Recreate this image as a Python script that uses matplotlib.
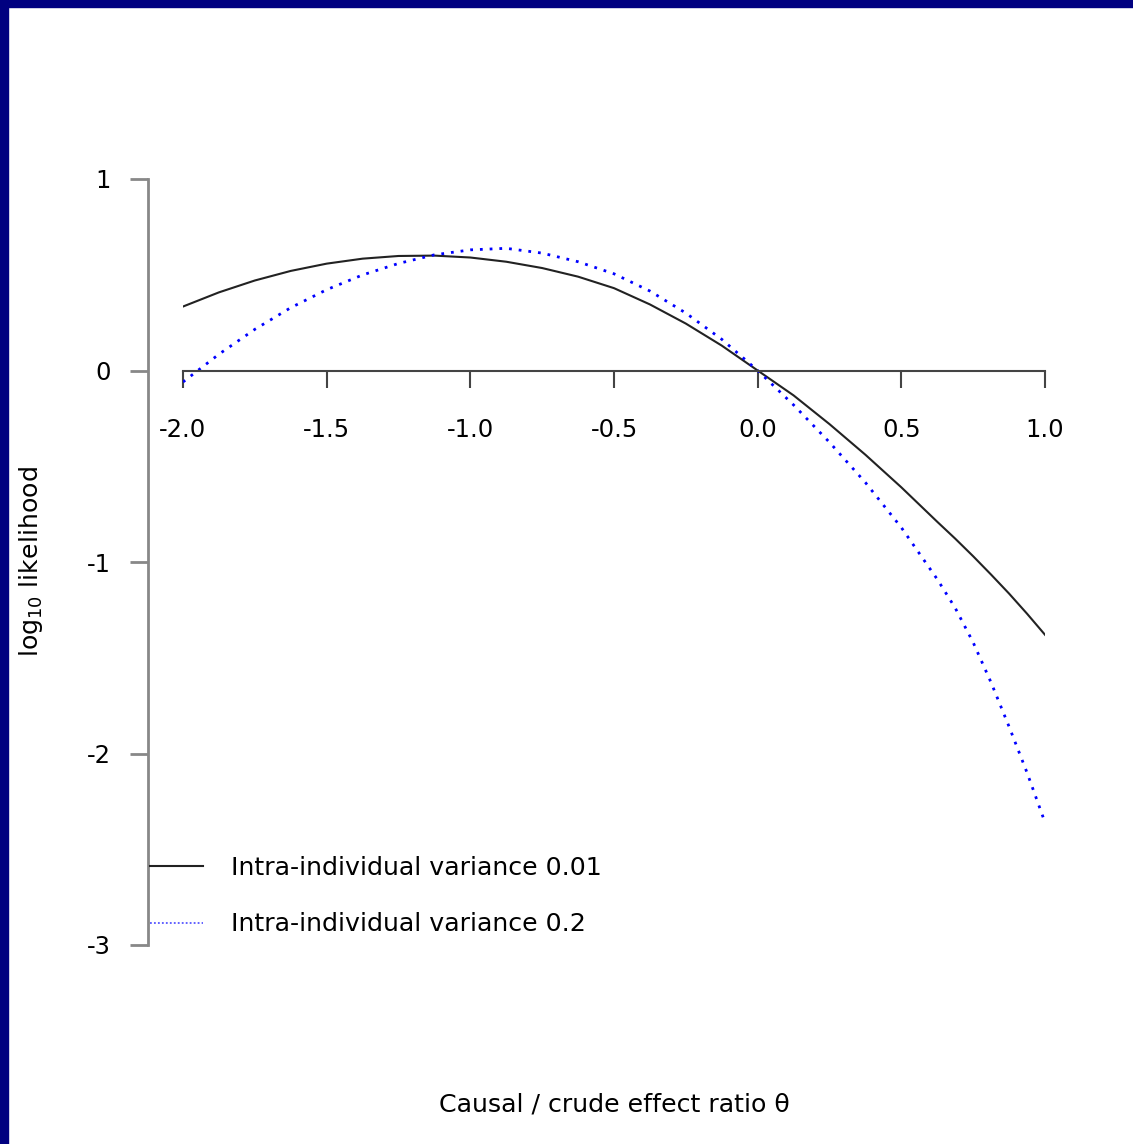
import matplotlib
matplotlib.use("Agg")
import matplotlib.pyplot as plt
from matplotlib.patches import Rectangle

plt.rcParams['font.family'] = ['DejaVu Sans']
plt.rcParams['axes.unicode_minus'] = False

# values
theta = [-2.0, -1.875, -1.75, -1.625, -1.5, -1.375, -1.25, -1.125, -1.0,
         -0.875, -0.75, -0.625, -0.5, -0.375, -0.25, -0.125, 0.0,
         0.125, 0.25, 0.375, 0.5, 0.625, 0.6875, 0.75, 0.8125, 0.875,
         0.9375, 1.0]
loglik_var001 = [0.334, 0.408, 0.47, 0.52, 0.558, 0.584, 0.598, 0.60, 0.59,
                 0.568, 0.535, 0.49, 0.43, 0.345, 0.245, 0.13, 0.0,
                 -0.13, -0.28, -0.44, -0.61, -0.79, -0.878, -0.97, -1.066,
                 -1.165, -1.27, -1.38]
loglik_var02 = [-0.06, 0.085, 0.215, 0.328, 0.422, 0.499, 0.559, 0.604, 0.63,
                0.638, 0.613, 0.568, 0.505, 0.415, 0.30, 0.163, 0.0,
                -0.18, -0.375, -0.585, -0.82, -1.09, -1.24, -1.42, -1.63,
                -1.86, -2.10, -2.36]
labels = ['Intra-individual variance 0.01', 'Intra-individual variance 0.2']
xticks = [-2.0, -1.5, -1.0, -0.5, 0.0, 0.5, 1.0]
yticks = [1, 0, -1, -2, -3]

W, H = 1133, 1144
fig = plt.figure(figsize=(W / 100, H / 100), dpi=100)
fig.patch.set_facecolor('white')

# navy frame strips (top and left)
fig.add_artist(Rectangle((0, 1 - 7 / H), 1, 7 / H, transform=fig.transFigure,
                         color='#000080', zorder=0))
fig.add_artist(Rectangle((0, 0), 8 / W, 1, transform=fig.transFigure,
                         color='#000080', zorder=0))

x0, x1 = 183, 1045
y_top, y_bot = 179, 945
ax = fig.add_axes([x0 / W, 1 - y_bot / H, (x1 - x0) / W, (y_bot - y_top) / H])

ax.plot(theta, loglik_var001, color='#222222', lw=1.5, label=labels[0])
ax.plot(theta, loglik_var02, color='#0000ff', lw=2.0, linestyle=(0, (1, 2.5)),
        label=labels[1])

ax.set_xlim(-2, 1)
ax.set_ylim(-3, 1)

for s in ['top', 'right']:
    ax.spines[s].set_visible(False)
ax.spines['bottom'].set_position(('data', 0))
ax.spines['bottom'].set_color('#444444')
ax.spines['bottom'].set_linewidth(1.5)
ax.spines['left'].set_position(('outward', 25.2))
ax.spines['left'].set_color('#888888')
ax.spines['left'].set_linewidth(2)

ax.set_xticks(xticks)
ax.set_xticklabels([f'{v:.1f}' for v in xticks])
ax.set_yticks(yticks)
ax.set_yticklabels([str(v) for v in yticks])
ax.tick_params(axis='x', direction='out', length=12, width=1.5, color='#444444',
               pad=22, labelsize=17.5, labelcolor='black')
ax.tick_params(axis='y', direction='out', length=13, width=2, color='#888888',
               pad=14, labelsize=17.5, labelcolor='black')

ax.set_xlabel('Causal / crude effect ratio θ', fontsize=18.2, va='center')
ax.xaxis.set_label_coords(0.5, (y_bot - 1104) / (y_bot - y_top))
ax.set_ylabel(r'log$_{10}$ likelihood', fontsize=18.2, va='center')
ax.yaxis.set_label_coords((31 - x0) / (x1 - x0), 0.5)

leg = fig.legend(loc='center left', bbox_to_anchor=(150 / W, 1 - 896 / H),
                 frameon=False, fontsize=18.2, handlelength=2.1,
                 handletextpad=1.1, labelspacing=1.3, borderpad=0,
                 borderaxespad=0)
hl = leg.get_lines()
hl[1].set_linestyle((0, (1, 1.2)))
hl[1].set_linewidth(1.3)
hl[1].set_color('#5555ff')

fig.savefig('out.png', dpi=100, facecolor='white')
